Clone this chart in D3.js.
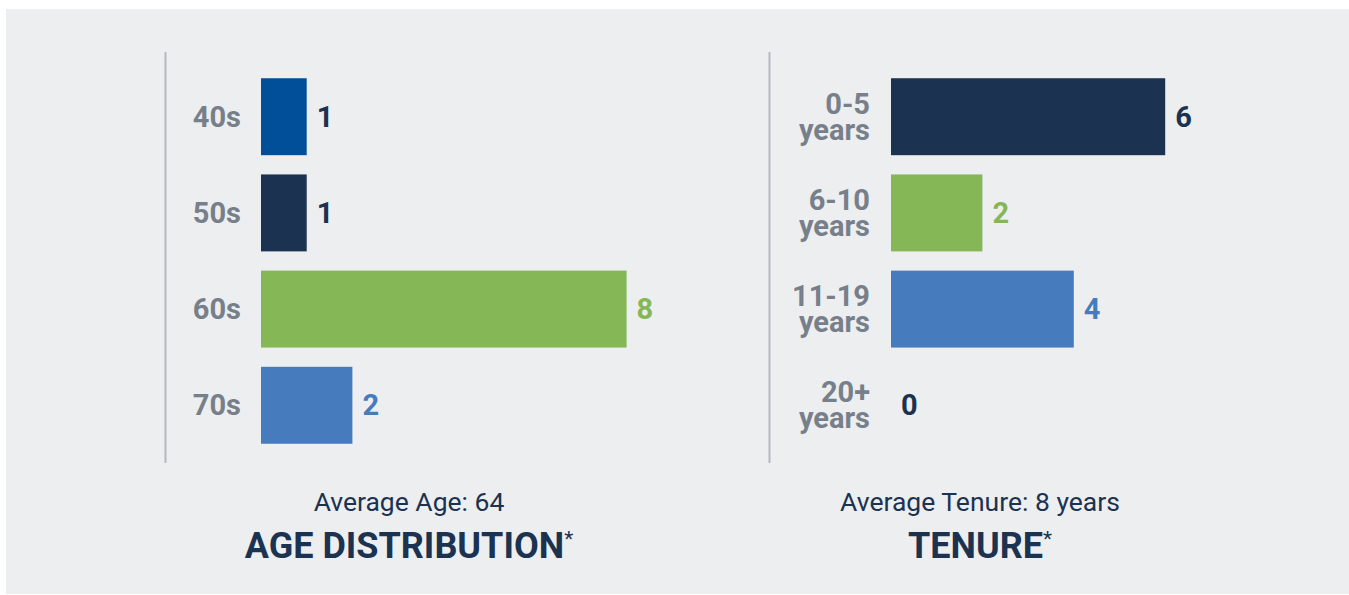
<!DOCTYPE html>
<meta charset="utf-8">
<style>
  body { margin: 0; background: #fff; }
  text { font-family: Roboto, "Noto Sans", sans-serif; }
</style>
<body>
<script src="https://d3js.org/d3.v7.min.js"></script>
<script>

// Data
var ageCats = ["40s", "50s", "60s", "70s"];
var ageValues = [1, 1, 8, 2];
var ageBarColors = ["#004f98", "#1b3350", "#86b757", "#467cbe"];
var ageLabelColors = ["#1b3350", "#1b3350", "#86b757", "#467cbe"];

var tenureCats = ["0-5 years", "6-10 years", "11-19 years", "20+ years"];
var tenureValues = [6, 2, 4, 0];
var tenureBarColors = ["#1b3350", "#86b757", "#467cbe", "#1b3350"];
var tenureLabelColors = ["#1b3350", "#86b757", "#467cbe", "#1b3350"];

var width = 1349, height = 595;

var svg = d3.select("body").append("svg")
    .attr("width", width)
    .attr("height", height);

// grey panel
svg.append("rect")
    .attr("x", 6).attr("y", 9)
    .attr("width", width - 6).attr("height", 585)
    .attr("fill", "#edeef0");

var y = d3.scaleBand()
    .range([59, 463])
    .paddingInner(0.2)
    .paddingOuter(0.2);

// Draw one horizontal bar panel.
function drawPanel(opt) {
  var g = svg.append("g");
  var yb = y.copy().domain(opt.cats);
  var x = d3.scaleLinear().domain([0, 8]).range([opt.x0, opt.x0 + 365.6]);

  g.append("line")
      .attr("x1", opt.axisX).attr("x2", opt.axisX)
      .attr("y1", 52).attr("y2", 463)
      .attr("stroke", "#b3b9c1")
      .attr("stroke-width", 2);

  g.selectAll("rect.bar")
    .data(opt.values)
    .enter().append("rect")
      .attr("class", "bar")
      .attr("x", x(0))
      .attr("y", (d, i) => yb(opt.cats[i]))
      .attr("width", d => x(d) - x(0))
      .attr("height", yb.bandwidth())
      .attr("fill", (d, i) => opt.barColors[i]);

  g.selectAll("text.val")
    .data(opt.values)
    .enter().append("text")
      .attr("class", "val")
      .attr("x", d => x(d) + 10)
      .attr("y", (d, i) => yb(opt.cats[i]) + yb.bandwidth() / 2 + 10)
      .attr("fill", (d, i) => opt.labelColors[i])
      .style("font-size", "29px")
      .style("font-weight", 700)
      .text(d => d);

  var cat = g.selectAll("text.cat")
    .data(opt.cats)
    .enter().append("text")
      .attr("class", "cat")
      .attr("text-anchor", "end")
      .attr("fill", "#77808a")
      .style("font-size", "29px")
      .style("font-weight", 700);

  cat.each(function(d) {
    var t = d3.select(this);
    var c = yb(d) + yb.bandwidth() / 2;
    var parts = opt.twoLine ? [d.split(" ")[0], d.split(" ").slice(1).join(" ")] : [d];
    if (parts.length === 1) {
      t.append("tspan").attr("x", x(0) - 20).attr("y", c + 10).text(parts[0]);
    } else {
      t.append("tspan").attr("x", x(0) - 21).attr("y", c - 3).text(parts[0]);
      t.append("tspan").attr("x", x(0) - 21).attr("y", c + 23).text(parts[1]);
    }
  });

  g.append("text")
      .attr("x", opt.cx).attr("y", 511)
      .attr("text-anchor", "middle")
      .attr("fill", "#1b3350")
      .style("font-size", "26.5px")
      .text(opt.sub);

  var title = g.append("text")
      .attr("x", opt.cx).attr("y", 558)
      .attr("text-anchor", "middle")
      .attr("fill", "#1b3350")
      .style("font-size", "36px")
      .style("font-weight", 700);
  title.append("tspan").text(opt.title);
  title.append("tspan")
      .attr("dy", -12)
      .style("font-size", "21px")
      .style("font-weight", 400)
      .text("*");
}

drawPanel({
  cats: ageCats, values: ageValues,
  barColors: ageBarColors, labelColors: ageLabelColors,
  x0: 261, axisX: 165.5, cx: 409,
  sub: "Average Age: 64", title: "AGE DISTRIBUTION", twoLine: false
});

drawPanel({
  cats: tenureCats, values: tenureValues,
  barColors: tenureBarColors, labelColors: tenureLabelColors,
  x0: 891, axisX: 769.5, cx: 980,
  sub: "Average Tenure: 8 years", title: "TENURE", twoLine: true
});

</script>
</body>
